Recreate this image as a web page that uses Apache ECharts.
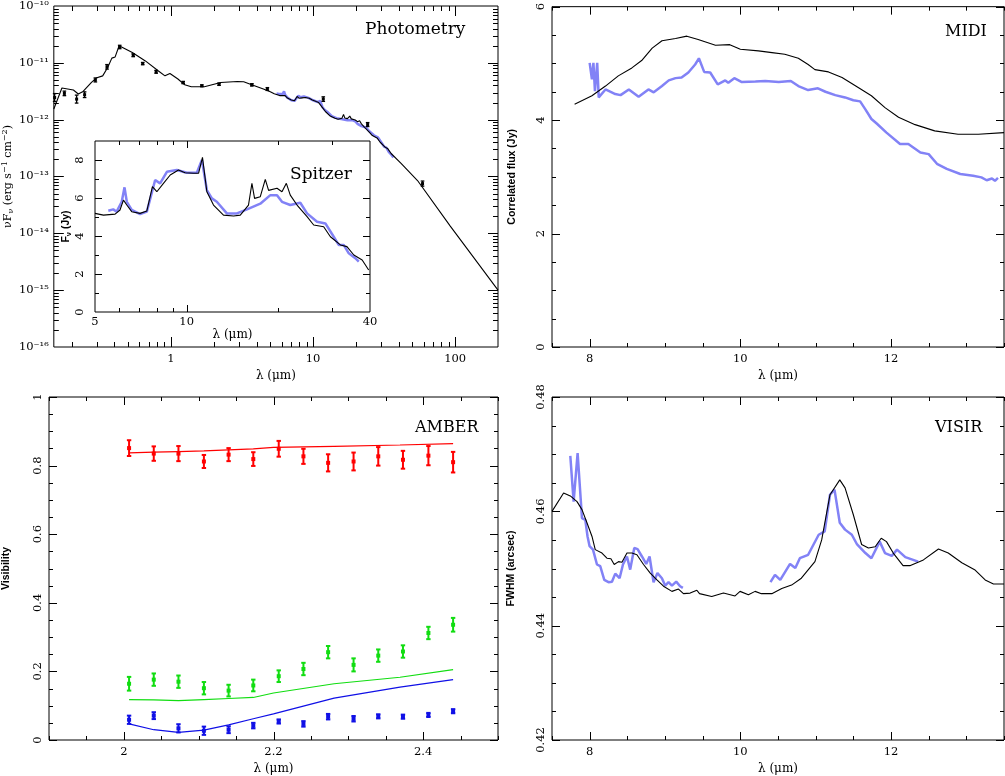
<!DOCTYPE html>
<html lang="en">
<head>
    <meta charset="UTF-8">
    <title>SED, MIDI, AMBER, VISIR</title>
    <script src="https://cdn.jsdelivr.net/npm/echarts@6.0.0/dist/echarts.min.js"></script>
    <style>
        html, body { margin: 0; padding: 0; background: #fff; }
        #chart { width: 1005px; height: 776px; }
    </style>
</head>
<body>
<div id="chart"></div>
<script>
    // ---- Photometry (nuFnu) ----
    var photLam = [0.152, 0.178, 0.217, 0.247, 0.294, 0.355, 0.436, 0.543, 0.633, 0.787, 1.22, 1.65, 2.18, 3.71, 4.77, 11.8, 24.2, 58.9];
    var photFlux = [2.45e-12, 2.9e-12, 2.3e-12, 2.75e-12, 5.0e-12, 8.5e-12, 1.9e-11, 1.36e-11, 9.7e-12, 6.95e-12, 4.5e-12, 3.95e-12, 4.2e-12, 4.1e-12, 3.46e-12, 2.3e-12, 8.2e-13, 7.5e-14];
    var photErrDex = [0.07, 0.04, 0.07, 0.05, 0.035, 0.04, 0.03, 0.025, 0.02, 0.025, 0.02, 0.015, 0.02, 0.02, 0.025, 0.04, 0.035, 0.045];

    // model SED outside the Spitzer range
    var sedShortLam = [0.15, 0.171, 0.206, 0.223, 0.241, 0.275, 0.298, 0.331, 0.359, 0.384, 0.405, 0.432, 0.535, 0.661, 0.817, 0.908, 0.984, 1.12, 1.25, 1.39, 1.72, 2.24, 2.93, 3.25, 3.62, 4.47];
    var sedShortFlux = [1.54e-12, 3.6e-12, 3.32e-12, 2.83e-12, 3.14e-12, 4.5e-12, 5.4e-12, 5.9e-12, 8.3e-12, 1.21e-11, 1.27e-11, 2.0e-11, 1.52e-11, 1.08e-11, 7.2e-12, 5.9e-12, 6.5e-12, 5.2e-12, 4.1e-12, 3.8e-12, 3.8e-12, 4.5e-12, 4.7e-12, 4.65e-12, 4.2e-12, 3.46e-12];
    var sedLongLam = [41.6, 54.3, 92.3, 200];
    var sedLongFlux = [1.7e-13, 8.5e-14, 1.34e-14, 1.0e-15];

    // ---- Spitzer inset (Fnu, Jy) ----
    var spzModLam = [5.0, 5.33, 5.82, 6.04, 6.20, 6.36, 6.60, 7.03, 7.40, 7.72, 7.98, 8.39, 8.83, 9.40, 9.88, 10.53, 10.94, 11.27, 11.65, 12.25, 13.21, 14.26, 15.0, 15.96, 16.38, 16.71, 17.45, 18.12, 18.58, 19.80, 20.56, 21.25, 21.89, 23.04, 24.85, 26.13, 28.18, 29.65, 31.98, 33.6, 35.4, 37.7, 39.6];
    var spzModF = [5.19, 5.1, 5.15, 5.37, 5.89, 5.63, 5.28, 5.19, 5.32, 6.6, 6.33, 6.77, 7.21, 7.47, 7.33, 7.3, 7.3, 8.14, 6.33, 5.63, 5.1, 5.05, 5.1, 5.63, 6.77, 5.98, 6.07, 6.98, 6.4, 6.51, 6.33, 6.77, 6.15, 5.63, 5.02, 4.58, 4.49, 3.96, 3.53, 3.44, 3.0, 2.74, 2.21];
    var spzDatLam = [5.53, 5.74, 5.89, 6.12, 6.25, 6.36, 6.60, 7.03, 7.40, 7.88, 8.18, 8.61, 9.28, 10.01, 10.80, 11.22, 11.65, 12.10, 12.56, 13.55, 14.62, 15.78, 17.45, 18.83, 19.80, 20.56, 21.89, 23.61, 24.85, 26.8, 28.55, 30.4, 31.57, 32.78, 34.07, 35.8, 36.74];
    var spzDatF = [5.33, 5.4, 5.28, 5.8, 6.56, 5.8, 5.37, 5.15, 5.28, 6.95, 6.77, 7.38, 7.47, 7.33, 7.33, 8.0, 6.42, 5.98, 5.8, 5.19, 5.19, 5.4, 5.7, 6.15, 6.15, 5.8, 5.63, 5.75, 5.19, 4.75, 4.66, 3.96, 3.53, 3.53, 3.09, 2.83, 2.65];

    // ---- MIDI correlated flux (Jy) ----
    var midiModLam = [7.80, 8.03, 8.21, 8.38, 8.56, 8.69, 8.83, 8.96, 9.14, 9.29, 9.44, 9.67, 9.86, 10.0, 10.24, 10.42, 10.59, 10.77, 10.90, 10.99, 11.17, 11.35, 11.57, 11.74, 11.92, 12.10, 12.32, 12.58, 12.89, 13.16, 13.5];
    var midiModF = [4.28, 4.43, 4.60, 4.78, 4.92, 5.05, 5.27, 5.40, 5.44, 5.48, 5.42, 5.32, 5.33, 5.25, 5.22, 5.19, 5.16, 5.09, 4.98, 4.89, 4.85, 4.75, 4.57, 4.43, 4.22, 4.05, 3.92, 3.81, 3.75, 3.75, 3.78];
    var midiDatLam = [8.0, 8.03, 8.05, 8.07, 8.10, 8.12, 8.21, 8.34, 8.41, 8.52, 8.65, 8.78, 8.85, 8.96, 9.05, 9.14, 9.22, 9.31, 9.40, 9.45, 9.52, 9.60, 9.70, 9.80, 9.84, 9.92, 10.02, 10.20, 10.33, 10.51, 10.67, 10.77, 10.90, 11.03, 11.13, 11.26, 11.39, 11.50, 11.59, 11.66, 11.74, 11.81, 11.94, 12.12, 12.23, 12.39, 12.50, 12.61, 12.74, 12.92, 13.09, 13.20, 13.27, 13.34, 13.38, 13.42];
    var midiDatF = [5.01, 4.72, 5.01, 4.51, 5.01, 4.40, 4.54, 4.46, 4.44, 4.54, 4.41, 4.54, 4.49, 4.60, 4.70, 4.74, 4.75, 4.84, 4.98, 5.09, 4.85, 4.84, 4.63, 4.70, 4.66, 4.74, 4.67, 4.68, 4.69, 4.67, 4.69, 4.60, 4.53, 4.56, 4.50, 4.44, 4.40, 4.35, 4.33, 4.19, 4.02, 3.94, 3.78, 3.58, 3.58, 3.43, 3.40, 3.23, 3.14, 3.05, 3.02, 2.99, 2.94, 2.97, 2.93, 2.98];

    // ---- AMBER visibilities ----
    var ambLam = [2.007, 2.040, 2.073, 2.107, 2.140, 2.173, 2.207, 2.240, 2.273, 2.307, 2.340, 2.373, 2.407, 2.440];
    var ambRedV = [0.851, 0.835, 0.835, 0.812, 0.832, 0.819, 0.849, 0.827, 0.808, 0.812, 0.827, 0.817, 0.829, 0.810];
    var ambRedErr = [0.023, 0.021, 0.022, 0.019, 0.019, 0.020, 0.023, 0.022, 0.025, 0.026, 0.027, 0.026, 0.028, 0.030];
    var ambGreenV = [0.164, 0.176, 0.170, 0.151, 0.144, 0.159, 0.186, 0.207, 0.256, 0.219, 0.246, 0.258, 0.312, 0.336];
    var ambGreenErr = [0.020, 0.018, 0.018, 0.018, 0.017, 0.017, 0.017, 0.018, 0.018, 0.019, 0.018, 0.018, 0.018, 0.020];
    var ambBlueV = [0.059, 0.071, 0.034, 0.027, 0.030, 0.042, 0.054, 0.047, 0.068, 0.062, 0.069, 0.068, 0.073, 0.084];
    var ambBlueErr = [0.012, 0.010, 0.012, 0.012, 0.010, 0.008, 0.006, 0.008, 0.008, 0.008, 0.006, 0.006, 0.006, 0.006];
    var ambModLam = [2.007, 2.04, 2.073, 2.107, 2.14, 2.173, 2.2, 2.281, 2.369, 2.44];
    var ambRedMod = [0.837, 0.839, 0.841, 0.843, 0.846, 0.849, 0.853, 0.856, 0.860, 0.864];
    var ambGreenMod = [0.118, 0.117, 0.115, 0.118, 0.121, 0.124, 0.137, 0.164, 0.183, 0.205];
    var ambBlueMod = [0.047, 0.030, 0.022, 0.029, 0.044, 0.062, 0.076, 0.122, 0.154, 0.176];

    // ---- VISIR FWHM (arcsec) ----
    var visModLam = [7.5, 7.654, 7.743, 7.832, 7.898, 7.964, 8.031, 8.074, 8.163, 8.229, 8.282, 8.326, 8.383, 8.428, 8.495, 8.561, 8.627, 8.715, 8.804, 8.893, 8.98, 9.092, 9.179, 9.245, 9.334, 9.423, 9.458, 9.62, 9.776, 9.93, 9.996, 10.107, 10.196, 10.28, 10.418, 10.55, 10.68, 10.81, 10.99, 11.08, 11.19, 11.32, 11.39, 11.50, 11.61, 11.70, 11.79, 11.87, 11.94, 12.03, 12.16, 12.25, 12.43, 12.63, 12.76, 12.94, 13.11, 13.25, 13.36, 13.5];
    var visModV = [0.4600, 0.4632, 0.4627, 0.4617, 0.4603, 0.4580, 0.4556, 0.4533, 0.4527, 0.4518, 0.4517, 0.4507, 0.4512, 0.4511, 0.4527, 0.4527, 0.4524, 0.4507, 0.4492, 0.4480, 0.4469, 0.4460, 0.4464, 0.4456, 0.4457, 0.4462, 0.4456, 0.4451, 0.4457, 0.4452, 0.4460, 0.4454, 0.4460, 0.4456, 0.4456, 0.4465, 0.4471, 0.4483, 0.4512, 0.4550, 0.4629, 0.4655, 0.4641, 0.4594, 0.4542, 0.4536, 0.4538, 0.4553, 0.4547, 0.4527, 0.4505, 0.4505, 0.4515, 0.4534, 0.4527, 0.4510, 0.4498, 0.4480, 0.4473, 0.4473];
    var visDat1Lam = [7.743, 7.787, 7.84, 7.898, 7.942, 7.972, 7.999, 8.044, 8.097, 8.14, 8.194, 8.25, 8.296, 8.34, 8.397, 8.442, 8.495, 8.538, 8.592, 8.636, 8.694, 8.751, 8.795, 8.848, 8.90, 8.959, 9.003, 9.047, 9.092, 9.149, 9.20, 9.237];
    var visDat1V = [0.4697, 0.4617, 0.4702, 0.4588, 0.4585, 0.4556, 0.4539, 0.4533, 0.4507, 0.4504, 0.4480, 0.4476, 0.4477, 0.4491, 0.4483, 0.4507, 0.4521, 0.4498, 0.4536, 0.4534, 0.4521, 0.4508, 0.4521, 0.4476, 0.4492, 0.4483, 0.4470, 0.4476, 0.4470, 0.4477, 0.4469, 0.4466];
    var visDat2Lam = [10.40, 10.46, 10.53, 10.66, 10.73, 10.79, 10.90, 11.04, 11.12, 11.19, 11.25, 11.32, 11.39, 11.48, 11.55, 11.66, 11.74, 11.85, 11.92, 12.01, 12.08, 12.19, 12.36];
    var visDat2V = [0.4476, 0.4489, 0.4480, 0.4508, 0.4501, 0.4518, 0.4524, 0.4559, 0.4565, 0.4629, 0.4638, 0.4580, 0.4568, 0.4559, 0.4542, 0.4527, 0.4518, 0.4547, 0.4527, 0.4522, 0.4533, 0.4520, 0.4512];

    // ---- tick labels ----
    var photXLabels = [1, 10, 100];
    var photYLabels = [1e-16, 1e-15, 1e-14, 1e-13, 1e-12, 1e-11, 1e-10];
    var spzXLabels = [5, 10, 40];
    var spzYLabels = [0, 2, 4, 6, 8];
    var midiXLabels = [8, 10, 12];
    var midiYLabels = [0, 2, 4, 6];
    var ambXLabels = [2, 2.2, 2.4];
    var ambYLabels = [0, 0.2, 0.4, 0.6, 0.8, 1];
    var visXLabels = [8, 10, 12];
    var visYLabels = [0.42, 0.44, 0.46, 0.48];

    var BLUE = '#8282f6';
    var SERIF = 'DejaVu Serif';
    var SANS = 'Liberation Sans';

    function zip(xs, ys) {
        return xs.map(function (x, i) { return [x, ys[i]]; });
    }
    // Fnu (Jy) -> nuFnu on the panel's scale, lambda in micron
    function toNuFnu(lams, fs) {
        return lams.map(function (l, i) { return [l, 2.998e-12 * fs[i] / l]; });
    }
    function logMinor(d0, d1) {
        var out = [];
        for (var d = d0; d < d1; d++) {
            for (var m = 2; m <= 9; m++) out.push(m * Math.pow(10, d));
        }
        return out;
    }
    function linTicks(a, b, step) {
        var out = [];
        var n = Math.round((b - a) / step);
        for (var i = 0; i <= n; i++) out.push(+(a + i * step).toFixed(6));
        return out;
    }
    var supMap = {'-': '⁻', '0': '⁰', '1': '¹', '2': '²', '3': '³', '4': '⁴', '5': '⁵', '6': '⁶', '7': '⁷', '8': '⁸', '9': '⁹'};
    function sup(n) {
        return String(n).replace(/[-0-9]/g, function (c) { return supMap[c]; });
    }

    // main-panel model: short part, Spitzer-range model (up to ~36 um), long tail
    var sedModel = zip(sedShortLam, sedShortFlux)
        .concat(toNuFnu(spzModLam, spzModF).filter(function (p) { return p[0] < 36; }))
        .concat(zip(sedLongLam, sedLongFlux));

    // inward ticks on all four sides of a frame
    function tickSeries(g, x0, y0, xMaj, xMin, yMaj, yMin, bigLen, smallLen) {
        var data = [];
        xMaj.forEach(function (v) { data.push([v, y0, 1, 0]); });
        xMin.forEach(function (v) { data.push([v, y0, 0, 0]); });
        yMaj.forEach(function (v) { data.push([x0, v, 1, 1]); });
        yMin.forEach(function (v) { data.push([x0, v, 0, 1]); });
        return {
            type: 'custom', xAxisIndex: g, yAxisIndex: g, silent: true, z: 5,
            data: data,
            renderItem: function (params, api) {
                var cs = params.coordSys;
                var len = api.value(2) ? bigLen : smallLen;
                var pt = api.coord([api.value(0), api.value(1)]);
                var st = {stroke: '#000', lineWidth: 1};
                if (api.value(3) === 0) {
                    var x = Math.round(pt[0]) + 0.5;
                    var yb = cs.y + cs.height;
                    return {type: 'group', children: [
                        {type: 'line', shape: {x1: x, y1: yb, x2: x, y2: yb - len}, style: st},
                        {type: 'line', shape: {x1: x, y1: cs.y, x2: x, y2: cs.y + len}, style: st}
                    ]};
                }
                var y = Math.round(pt[1]) + 0.5;
                var xr = cs.x + cs.width;
                return {type: 'group', children: [
                    {type: 'line', shape: {x1: cs.x, y1: y, x2: cs.x + len, y2: y}, style: st},
                    {type: 'line', shape: {x1: xr, y1: y, x2: xr - len, y2: y}, style: st}
                ]};
            }
        };
    }

    // error bars with caps and a small square at the value
    function errSeries(g, rows, color, cap, lw, box) {
        return {
            type: 'custom', xAxisIndex: g, yAxisIndex: g, silent: true, z: 4,
            data: rows,
            renderItem: function (params, api) {
                var p = api.coord([api.value(0), api.value(1)]);
                var a = api.coord([api.value(0), api.value(2)]);
                var b = api.coord([api.value(0), api.value(3)]);
                var st = {stroke: color, lineWidth: lw};
                return {type: 'group', children: [
                    {type: 'line', shape: {x1: p[0], y1: a[1], x2: p[0], y2: b[1]}, style: st},
                    {type: 'line', shape: {x1: p[0] - cap, y1: a[1], x2: p[0] + cap, y2: a[1]}, style: st},
                    {type: 'line', shape: {x1: p[0] - cap, y1: b[1], x2: p[0] + cap, y2: b[1]}, style: st},
                    {type: 'rect', shape: {x: p[0] - box / 2, y: p[1] - box / 2, width: box, height: box}, style: {fill: color}}
                ]};
            }
        };
    }
    function linRows(xs, ys, es) {
        return xs.map(function (x, i) { return [x, ys[i], ys[i] - es[i], ys[i] + es[i]]; });
    }
    function logRows(xs, ys, es) {
        return xs.map(function (x, i) { return [x, ys[i], ys[i] / Math.pow(10, es[i]), ys[i] * Math.pow(10, es[i])]; });
    }

    function line(g, data, color, width) {
        return {
            type: 'line', xAxisIndex: g, yAxisIndex: g, data: data, showSymbol: false, symbol: 'none',
            lineStyle: {color: color, width: width}, silent: true, z: 3
        };
    }

    function tickLabel(values, margin, rotate, fmt) {
        var o = {customValues: values, margin: margin, fontFamily: SERIF, fontSize: 11.5, color: '#000'};
        if (rotate) o.rotate = rotate;
        if (fmt) o.formatter = fmt;
        return o;
    }
    var noAxis = {axisLine: {show: false}, axisTick: {show: false}, splitLine: {show: false}};
    function ax(o) {
        return Object.assign({}, noAxis, o);
    }
    var lamName = {name: 'λ (μm)', nameLocation: 'middle', nameTextStyle: {fontFamily: SERIF, fontSize: 12, color: '#000'}};
    function yName(text, gap) {
        return {name: text, nameLocation: 'middle', nameGap: gap,
            nameTextStyle: {fontFamily: SANS, fontWeight: 'bold', fontSize: 10.5, color: '#000'}};
    }
    function grid(l, t, w, h) {
        return {left: l, top: t, width: w, height: h, show: true, borderColor: '#000', borderWidth: 1, backgroundColor: '#fff'};
    }
    function title(text, l, t, size) {
        return {text: text, left: l, top: t, padding: 0,
            textStyle: {fontFamily: SERIF, fontSize: size || 17, fontWeight: 'normal', color: '#000'}};
    }

    var option = {
        animation: false,
        backgroundColor: '#fff',
        title: [
            title('Photometry', 365, 21),
            title('Spitzer', 290, 166),
            title('MIDI', 945, 24, 16),
            title('AMBER', 415, 420, 16),
            title('VISIR', 935, 420, 16)
        ],
        grid: [
            grid(47, 5, 451, 342),
            grid(95, 141, 275, 171),
            grid(552, 5, 452, 342),
            grid(47, 397, 451, 343),
            grid(552, 397, 452, 343)
        ],
        xAxis: [
            ax(Object.assign({gridIndex: 0, type: 'log', logBase: 10, min: 0.15, max: 200, nameGap: 23,
                axisLabel: tickLabel(photXLabels, 6, 0, function (v) { return String(Math.round(v)); })}, lamName)),
            ax(Object.assign({gridIndex: 1, type: 'log', logBase: 10, min: 5, max: 40, nameGap: 11,
                axisLabel: tickLabel(spzXLabels, 4, 0, function (v) { return String(Math.round(v)); })}, lamName)),
            ax(Object.assign({gridIndex: 2, type: 'value', min: 7.5, max: 13.5, nameGap: 23,
                axisLabel: tickLabel(midiXLabels, 6)}, lamName)),
            ax(Object.assign({gridIndex: 3, type: 'value', min: 1.9, max: 2.5, nameGap: 23,
                axisLabel: tickLabel(ambXLabels, 6)}, lamName)),
            ax(Object.assign({gridIndex: 4, type: 'value', min: 7.5, max: 13.5, nameGap: 23,
                axisLabel: tickLabel(visXLabels, 6)}, lamName))
        ],
        yAxis: [
            ax({gridIndex: 0, type: 'log', logBase: 10, min: 1e-16, max: 1e-10,
                axisLabel: tickLabel(photYLabels, 5, 0, function (v) { return '10' + sup(Math.round(Math.log10(v))); }),
                name: 'νF{sub|ν} (erg s{sup|−1} cm{sup|−2})', nameLocation: 'middle', nameGap: 35,
                nameTextStyle: {fontFamily: SERIF, fontSize: 11, color: '#000', lineHeight: 14,
                    rich: {
                        sub: {fontFamily: SERIF, fontSize: 8, lineHeight: 8, verticalAlign: 'bottom'},
                        sup: {fontFamily: SERIF, fontSize: 8, lineHeight: 8, verticalAlign: 'top'}
                    }}}),
            ax(Object.assign({gridIndex: 1, type: 'value', min: 0, max: 9,
                axisLabel: tickLabel(spzYLabels, 9, 90)}, yName('F{sub|ν} (Jy)', 22), {
                nameTextStyle: {fontFamily: SANS, fontWeight: 'bold', fontSize: 10.5, color: '#000', lineHeight: 13,
                    rich: {sub: {fontFamily: SANS, fontWeight: 'bold', fontSize: 7.5, lineHeight: 7, verticalAlign: 'bottom'}}}})),
            ax(Object.assign({gridIndex: 2, type: 'value', min: 0, max: 6,
                axisLabel: tickLabel(midiYLabels, 5, 90)}, yName('Correlated flux (Jy)', 34))),
            ax(Object.assign({gridIndex: 3, type: 'value', min: 0, max: 1,
                axisLabel: tickLabel(ambYLabels, 5, 90)}, yName('Visibility', 37))),
            ax(Object.assign({gridIndex: 4, type: 'value', min: 0.42, max: 0.48,
                axisLabel: tickLabel(visYLabels, 5, 90)}, yName('FWHM (arcsec)', 35)))
        ],
        series: [
            // photometry
            line(0, toNuFnu(spzDatLam, spzDatF), BLUE, 2.5),
            line(0, sedModel, '#000', 1.1),
            errSeries(0, logRows(photLam, photFlux, photErrDex), '#000', 1.8, 1.3, 3),
            tickSeries(0, 0.15, 1e-16, [1, 10, 100], logMinor(-1, 2).filter(function (v) { return v > 0.15; }),
                [1e-15, 1e-14, 1e-13, 1e-12, 1e-11], logMinor(-16, -10), 10, 5),
            // spitzer inset
            line(1, zip(spzDatLam, spzDatF), BLUE, 2.5),
            line(1, zip(spzModLam, spzModF), '#000', 1.1),
            tickSeries(1, 5, 0, [10], [6, 7, 8, 9, 20, 30], [2, 4, 6, 8], [1, 3, 5, 7], 7, 4),
            // MIDI
            line(2, zip(midiDatLam, midiDatF), BLUE, 2.5),
            line(2, zip(midiModLam, midiModF), '#000', 1.1),
            tickSeries(2, 7.5, 0, midiXLabels, linTicks(7.5, 13.5, 0.5), midiYLabels, linTicks(0, 6, 0.5), 8, 4),
            // AMBER
            line(3, zip(ambModLam, ambRedMod), '#ff0000', 1.2),
            line(3, zip(ambModLam, ambGreenMod), '#11dd11', 1.2),
            line(3, zip(ambModLam, ambBlueMod), '#1010e6', 1.2),
            errSeries(3, linRows(ambLam, ambRedV, ambRedErr), '#ff0000', 2.2, 2, 4),
            errSeries(3, linRows(ambLam, ambGreenV, ambGreenErr), '#11dd11', 2.2, 2, 4),
            errSeries(3, linRows(ambLam, ambBlueV, ambBlueErr), '#1010e6', 2.2, 2, 4),
            tickSeries(3, 1.9, 0, ambXLabels, linTicks(1.9, 2.5, 0.05), ambYLabels, linTicks(0, 1, 0.05), 8, 4),
            // VISIR
            line(4, zip(visDat1Lam, visDat1V), BLUE, 2.5),
            line(4, zip(visDat2Lam, visDat2V), BLUE, 2.5),
            line(4, zip(visModLam, visModV), '#000', 1.1),
            tickSeries(4, 7.5, 0.42, visXLabels, linTicks(7.5, 13.5, 0.5), visYLabels, linTicks(0.42, 0.48, 0.005), 8, 4)
        ]
    };

    var myChart = echarts.init(document.getElementById('chart'));
    myChart.setOption(option);
    window.onresize = function () { myChart.resize(); };
</script>
</body>
</html>
